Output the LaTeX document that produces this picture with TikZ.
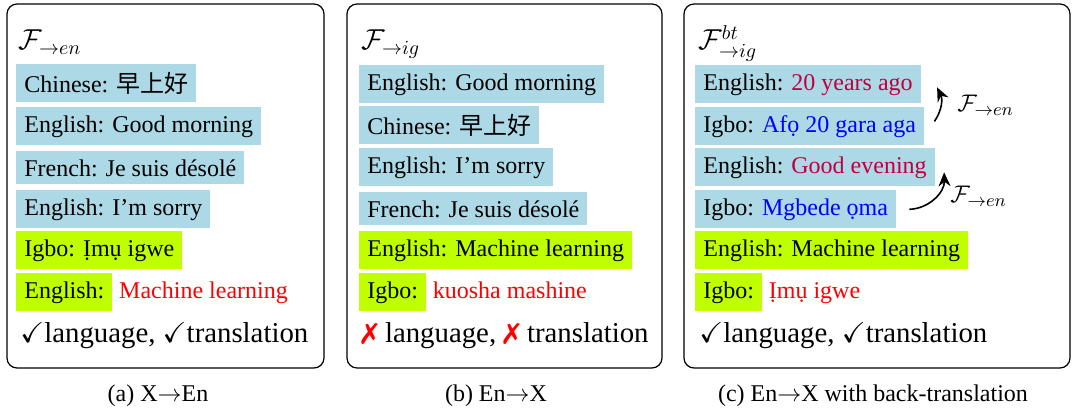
\documentclass[tikz,border=0pt]{standalone}
\usepackage{amssymb}
\usepackage{pifont}
\usepackage{fontspec}
\setmainfont{Liberation Serif}
\newfontfamily\cjk{Noto Sans CJK SC}
\usetikzlibrary{positioning,arrows.meta}
\definecolor{bgblue}{HTML}{ADD8E6}
\definecolor{bggreen}{rgb}{0.75,1,0}
\definecolor{txtpurple}{rgb}{0.75,0,0.25}

\begin{document}
\begin{tikzpicture}[x=0.5pt,y=-0.5pt,font=\fontsize{12}{14}\selectfont,
    panel/.style={draw,rounded corners=5pt,line width=0.6pt},
    rowblue/.style={fill=bgblue,inner sep=4pt,anchor=north west},
    rowgreen/.style={fill=bggreen,inner sep=4pt,anchor=north west},
    tail/.style={inner sep=0pt},
    bigtext/.style={anchor=base west,inner sep=0pt,font=\fontsize{14.4}{17}\selectfont},
    btlabel/.style={anchor=base west,inner sep=0pt,font=\fontsize{13}{15}\selectfont},
    btarrow/.style={-{Stealth[length=7pt,width=6pt]},thick}]
    \useasboundingbox (0,0) rectangle (1072,410);

    % frames
    \draw[panel] (7,4) rectangle (324,368);
    \draw[panel] (347,4) rectangle (662,368);
    \draw[panel] (684,4) rectangle (1070,368);

    % (a) X -> En
    \node[bigtext] (ta) at (18,50) {$\mathcal{F}_{\rightarrow en}$};
    \node[rowblue] (a1) at (16,64) {Chinese: {\cjk 早上好}};
    \node[rowblue] (a2) at (16,107) {English: Good morning};
    \node[rowblue] (a3) at (16,151) {French: Je suis désolé};
    \node[rowblue] (a4) at (16,190) {English: I’m sorry};
    \node[rowgreen] (a5) at (16,231) {Igbo: Ịmụ igwe};
    \node[rowgreen] (a6) at (16,273) {English:};
    \node[tail,text=red,base right=3pt of a6] (a7) {Machine learning};
    \node[bigtext] (va) at (20,343) {\checkmark{}language, \checkmark{}translation};

    % (b) En -> X
    \node[bigtext] (tb) at (361,50) {$\mathcal{F}_{\rightarrow ig}$};
    \node[rowblue] (b1) at (359,65) {English: Good morning};
    \node[rowblue] (b2) at (359,106) {Chinese: {\cjk 早上好}};
    \node[rowblue] (b3) at (359,148) {English: I’m sorry};
    \node[rowblue] (b4) at (359,192) {French: Je suis désolé};
    \node[rowgreen] (b5) at (359,231) {English: Machine learning};
    \node[rowgreen] (b6) at (359,273) {Igbo:};
    \node[tail,text=red,base right=3pt of b6] (b7) {kuosha mashine};
    \node[bigtext] (vb) at (361,343) {\textcolor{red}{\ding{55}} language, \textcolor{red}{\ding{55}} translation};

    % (c) En -> X with back-translation
    \node[bigtext] (tc) at (698,50) {$\mathcal{F}^{bt}_{\rightarrow ig}$};
    \node[rowblue] (c1) at (695,65) {English: \textcolor{txtpurple}{20 years ago}};
    \node[rowblue] (c2) at (695,107) {Igbo: \textcolor{blue}{Afọ 20 gara aga}};
    \node[rowblue] (c3) at (695,148) {English: \textcolor{txtpurple}{Good evening}};
    \node[rowblue] (c4) at (695,190) {Igbo: \textcolor{blue}{Mgbede ọma}};
    \node[rowgreen] (c5) at (695,231) {English: Machine learning};
    \node[rowgreen] (c6) at (695,273) {Igbo:};
    \node[tail,text=red,base right=3pt of c6] (c7) {Ịmụ igwe};
    \node[bigtext] (vc) at (699,343) {\checkmark{}language, \checkmark{}translation};

    % back-translation arrows
    \draw[btarrow] ([xshift=5pt,yshift=2.5pt]c2.east) to[bend right=30] ([xshift=8pt,yshift=-1.5pt]c1.east);
    \node[btlabel] (f1) at (957,112) {$\mathcal{F}_{\rightarrow en}$};
    \draw[btarrow] ([xshift=6.5pt]c4.east) to[bend right=45] ([xshift=4.5pt,yshift=-2.5pt]c3.east);
    \node[btlabel] (f2) at (950,203) {$\mathcal{F}_{\rightarrow en}$};

    % captions
    \node[anchor=base] (capa) at (158,402) {(a) X$\rightarrow$En};
    \node[anchor=base] (capb) at (496,402) {(b) En$\rightarrow$X};
    \node[anchor=base] (capc) at (873,402) {(c) En$\rightarrow$X with back-translation};
\end{tikzpicture}
\end{document}
